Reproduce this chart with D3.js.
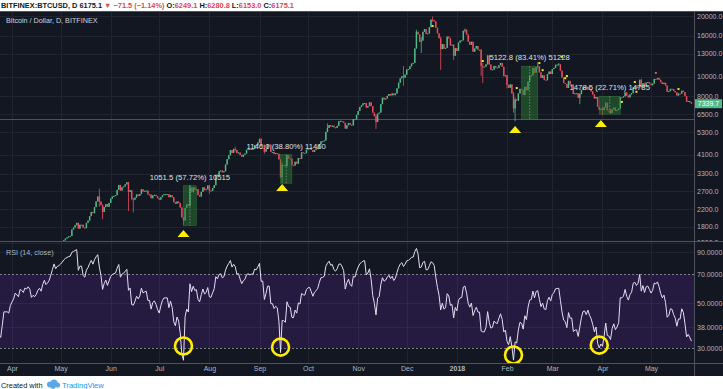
<!DOCTYPE html>
<html>
<head>
<meta charset="utf-8">
<script src="https://cdn.jsdelivr.net/npm/d3@7"></script>
<style>
  body { margin: 0; background: #ffffff; }
  svg { display: block; font-family: "Liberation Sans", Arial, sans-serif; }
</style>
</head>
<body>
<svg id="chart" width="723" height="389"></svg>
<script>
// daily closes, BITFINEX BTC/USD (open of each day = previous close)
const firstDay = "2017-03-01";
const firstOpen = 1190;
const mar17 = [1222, 1251, 1283, 1265, 1273, 1277, 1235, 1152, 1195, 1116, 1176, 1232, 1240, 1244, 1255, 1172, 1071, 971, 1023, 1044, 1120, 1049, 1039, 937, 920, 972, 1045, 1045, 1045, 1037, 1079];
const apr17 = [1100, 1120, 1160, 1150, 1140, 1190, 1185, 1175, 1205, 1200, 1215, 1205, 1170, 1180, 1175, 1185, 1205, 1215, 1205, 1240, 1265, 1250, 1260, 1275, 1310, 1360, 1430, 1410, 1440, 1450];
const may17 = [1470, 1500, 1540, 1570, 1590, 1610, 1620, 1740, 1780, 1830, 1880, 1760, 1840, 1840, 1780, 1770, 1880, 1930, 2030, 2130, 2100, 2250, 2400, 2540, 2400, 2300, 2130, 2250, 2330, 2260, 2360];
const jun17 = [2480, 2540, 2560, 2580, 2740, 2900, 2720, 2820, 2850, 2920, 2990, 2680, 2730, 2460, 2450, 2510, 2600, 2560, 2610, 2760, 2690, 2710, 2720, 2600, 2600, 2490, 2570, 2590, 2550, 2490];
const jul17 = [2450, 2520, 2580, 2610, 2610, 2610, 2520, 2580, 2520, 2380, 2340, 2400, 2360, 2240, 2000, 1930, 2230, 2320, 2280, 2820, 2670, 2820, 2740, 2760, 2580, 2540, 2680, 2820, 2730, 2760, 2880];
const aug17 = [2720, 2710, 2800, 2890, 3260, 3220, 3390, 3420, 3350, 3390, 3660, 3890, 4070, 4320, 4180, 4380, 4330, 4170, 4200, 4090, 4000, 4100, 4150, 4330, 4370, 4350, 4380, 4380, 4580, 4570, 4710];
const sep17 = [4900, 4580, 4590, 4240, 4380, 4600, 4600, 4230, 4230, 4130, 4170, 4140, 3880, 3160, 3640, 3630, 3590, 4070, 3930, 3910, 3630, 3620, 3780, 3700, 3940, 3910, 4210, 4180, 4170, 4340];
const oct17 = [4400, 4410, 4320, 4230, 4330, 4370, 4430, 4610, 4770, 4780, 4820, 5320, 5560, 5740, 5650, 5710, 5600, 5570, 5700, 6000, 6030, 5980, 5900, 5520, 5740, 5890, 5770, 5730, 6150, 6130, 6460];
const nov17 = [6760, 7070, 7200, 7370, 7400, 7020, 7140, 7450, 7140, 6620, 6360, 5950, 6550, 6630, 7300, 7860, 7700, 7790, 8030, 8200, 8070, 8250, 8090, 8250, 8750, 9330, 9810, 10050, 9880, 10230];
const dec17 = [10850, 10900, 11250, 11600, 11700, 13800, 16700, 16200, 14900, 15100, 16700, 17200, 16300, 16400, 17600, 19200, 19100, 18800, 17500, 16400, 15500, 13700, 14500, 13750, 13900, 15800, 15500, 14300, 14400, 12700, 13850];
const jan18 = [13400, 14750, 15100, 15150, 16900, 17100, 16200, 14900, 14400, 14900, 13300, 13800, 14200, 13600, 13600, 11300, 11200, 11200, 11500, 12750, 11500, 10800, 10850, 11300, 11100, 11050, 11400, 11700, 11200, 10050, 10150];
const feb18 = [9100, 8800, 9150, 8250, 6950, 7700, 7600, 8250, 8700, 8600, 8100, 8900, 8550, 9450, 10100, 10150, 11050, 10450, 11150, 11250, 10500, 9850, 10150, 9650, 9600, 10300, 10600, 10300];
const mar18 = [10900, 11050, 11450, 11480, 11500, 10700, 9900, 9300, 9200, 8780, 9530, 9130, 9140, 8200, 8260, 8270, 7850, 8190, 8590, 8880, 8900, 8700, 8900, 8630, 8450, 8150, 7790, 7930, 7090, 6840, 6930];
const apr18 = [6820, 7040, 7420, 6800, 6770, 6610, 6890, 7020, 6760, 6830, 6940, 7900, 7890, 7980, 8350, 8050, 7890, 8160, 8280, 8850, 8920, 8790, 8930, 9650, 8870, 9280, 8930, 9340, 9400, 9240];
const may18 = [9070, 9230, 9740, 9700, 9850, 9650, 9370, 9190, 9320, 9030, 8420, 8480, 8700, 8680, 8480, 8350, 8060, 8240, 8230, 8510, 8390, 8000, 7520, 7570, 7460, 7339.7];

// visible wicks: [day, high, low]
const wicks = [
  ["2017-05-25", 2780, 2260], ["2017-05-27", 2320, 1960], ["2017-06-12", 2990, 2150],
  ["2017-06-15", 2500, 2120], ["2017-07-16", 2010, 1830], ["2017-07-20", 2900, 2270],
  ["2017-08-01", 2900, 2620], ["2017-08-17", 4480, 4250], ["2017-09-01", 4930, 4680],
  ["2017-09-02", 4950, 4480], ["2017-09-04", 4560, 4140], ["2017-09-15", 3750, 2970],
  ["2017-10-13", 5850, 5300], ["2017-11-12", 6500, 5500], ["2017-11-29", 11300, 9000],
  ["2017-12-07", 17100, 13900], ["2017-12-10", 15700, 13100], ["2017-12-17", 19890, 18750],
  ["2017-12-22", 15800, 10800], ["2017-12-30", 14500, 12100], ["2018-01-06", 17300, 16600],
  ["2018-01-16", 13700, 10100], ["2018-01-17", 11700, 9300], ["2018-02-01", 10200, 8750],
  ["2018-02-05", 8390, 6620], ["2018-02-06", 7870, 6000], ["2018-02-20", 11790, 11100],
  ["2018-03-05", 11700, 11400], ["2018-03-18", 8300, 7300], ["2018-04-01", 7100, 6430],
  ["2018-04-06", 6900, 6520], ["2018-04-25", 9760, 8730]
];

const priceTicks = [20000, 16000, 13000, 10000, 8000, 6500, 5300, 4100, 3300, 2700, 2200, 1800, 1500];
const rsiTicks = [90, 70, 50, 38, 30];
const rsiBand = [30, 70];
const currentPrice = 6175.1;

const measures = [
  { from: "2017-07-16", to: "2017-07-24", low: 1821.8, high: 2873.3, label: "1051.5 (57.72%) 10515" },
  { from: "2017-09-14", to: "2017-09-21", low: 2953.6, high: 4099.6, label: "1146.0 (38.80%) 11460" },
  { from: "2018-02-10", to: "2018-02-20", low: 6141.7, high: 11264.5, label: "5122.8 (83.41%) 51228" },
  { from: "2018-03-30", to: "2018-04-12", low: 6510.3, high: 7988.8, label: "1478.5 (22.71%) 14785" }
];
const triangles = [["2017-07-16", 1733], ["2017-09-15", 2932], ["2018-02-06", 5690], ["2018-03-31", 6093]];
const rsiCircles = [["2017-07-16", 30.7], ["2017-09-14", 30.3], ["2018-02-05", 27.7], ["2018-03-30", 31.0]];
const dots = [
  ["2017-12-17", 17840, "y"], ["2018-01-17", 11960, "y"], ["2018-02-07", 8780, "y"],
  ["2018-02-21", 11680, "y"], ["2018-02-23", 10770, "y"], ["2018-03-07", 12550, "y"],
  ["2018-03-09", 9830, "y"], ["2018-03-10", 10070, "y"], ["2018-04-13", 7490, "y"],
  ["2018-04-21", 9410, "y"], ["2018-04-22", 8410, "y"], ["2018-05-04", 10430, "r"],
  ["2018-05-18", 8680, "y"]
];

const header = [
  ["BITFINEX:BTCUSD, D ", "#131722"], ["6175.1 ", "#131722"], ["\u25BC ", "#e0464f"],
  ["\u221271.5 (\u22121.14%) ", "#e0464f"], ["O:", "#131722"], ["6249.1 ", "#e0464f"],
  ["H:", "#131722"], ["6280.8 ", "#e0464f"], ["L:", "#131722"], ["6153.0 ", "#e0464f"],
  ["C:", "#131722"], ["6175.1", "#e0464f"]
];

const colors = { bg: "#131722", grid: "#20242f", up: "#53b987", down: "#eb4d5c", text: "#b2b5be", border: "#50535e" };
const pane = { right: 694, top: 11, priceBottom: 241, rsiTop: 242, rsiBottom: 363, axisBottom: 376 };

const parseDay = d3.utcParse("%Y-%m-%d");
const start = parseDay(firstDay);
const closes = [].concat(mar17, apr17, may17, jun17, jul17, aug17, sep17, oct17, nov17, dec17, jan18, feb18, mar18, apr18, may18);

const candles = closes.map((c, i) => {
  const open = i === 0 ? firstOpen : closes[i - 1];
  return { date: d3.utcDay.offset(start, i), open: open, close: c, high: Math.max(open, c), low: Math.min(open, c) };
});
wicks.forEach(([d, h, l]) => {
  const k = d3.utcDay.count(start, parseDay(d));
  candles[k].high = Math.max(h, candles[k].high);
  candles[k].low = Math.min(l, candles[k].low);
});

// RSI(14) of close, Wilder smoothing
function rsiSeries(len) {
  const out = [];
  let up = 0, down = 0;
  for (let i = 1; i < closes.length; i++) {
    const ch = closes[i] - closes[i - 1];
    const g = Math.max(ch, 0), l = Math.max(-ch, 0);
    if (i <= len) { up += g / len; down += l / len; }
    else { up = (up * (len - 1) + g) / len; down = (down * (len - 1) + l) / len; }
    if (i >= len) out.push({ date: candles[i].date, value: down === 0 ? 100 : 100 - 100 / (1 + up / down) });
  }
  return out;
}
const rsi = rsiSeries(14);

const x = d3.scaleUtc().domain([new Date(Date.UTC(2017, 3, 1)), new Date(Date.UTC(2018, 4, 1))]).range([12, 651]);
const yPrice = d3.scaleLog().domain([1500, 20000]).range([242.6, 16]);
const yRsi = d3.scaleLog().domain([30, 70]).range([348, 274]);
const monthTicks = d3.utcMonth.range(new Date(Date.UTC(2017, 3, 1)), new Date(Date.UTC(2018, 4, 2)));

const svg = d3.select("#chart");
const defs = svg.append("defs");
defs.append("clipPath").attr("id", "clipPrice").append("rect")
  .attr("x", 0).attr("y", pane.top).attr("width", pane.right).attr("height", pane.priceBottom - pane.top);
defs.append("clipPath").attr("id", "clipRsi").append("rect")
  .attr("x", 0).attr("y", pane.rsiTop).attr("width", pane.right).attr("height", pane.rsiBottom - pane.rsiTop);
defs.append("clipPath").attr("id", "clipPriceAxis").append("rect")
  .attr("x", pane.right).attr("y", pane.top).attr("width", 30).attr("height", pane.priceBottom - pane.top);

svg.append("rect").attr("x", 0).attr("y", pane.top).attr("width", 723).attr("height", pane.axisBottom - pane.top)
  .attr("fill", colors.bg);

// grid
const grid = svg.append("g").attr("stroke", colors.grid).attr("stroke-width", 1);
monthTicks.forEach(d => {
  const gx = Math.round(x(d)) + 0.5;
  grid.append("line").attr("x1", gx).attr("x2", gx).attr("y1", pane.top).attr("y2", pane.rsiBottom);
});
priceTicks.forEach(p => {
  const gy = Math.round(yPrice(p)) + 0.5;
  grid.append("line").attr("x1", 0).attr("x2", pane.right).attr("y1", gy).attr("y2", gy);
});
rsiTicks.filter(v => rsiBand.indexOf(v) < 0).forEach(v => {
  const gy = Math.round(yRsi(v)) + 0.5;
  grid.append("line").attr("x1", 0).attr("x2", pane.right).attr("y1", gy).attr("y2", gy);
});

// price pane
const pricePane = svg.append("g").attr("clip-path", "url(#clipPrice)");
const cy = Math.round(yPrice(currentPrice)) + 0.5;
pricePane.append("line").attr("x1", 0).attr("x2", pane.right).attr("y1", cy).attr("y2", cy)
  .attr("stroke", "#a02d3c").attr("stroke-width", 1);

const bodyW = 1.4;
const candleG = pricePane.append("g");
candles.forEach(c => {
  const cx = x(c.date);
  const col = c.close >= c.open ? colors.up : colors.down;
  candleG.append("line").attr("x1", cx).attr("x2", cx)
    .attr("y1", yPrice(c.high)).attr("y2", yPrice(c.low))
    .attr("stroke", col).attr("stroke-width", 0.8);
  const top = yPrice(Math.max(c.open, c.close));
  const bot = yPrice(Math.min(c.open, c.close));
  candleG.append("rect").attr("x", cx - bodyW / 2).attr("y", top)
    .attr("width", bodyW).attr("height", Math.max(1, bot - top)).attr("fill", col);
});

measures.forEach(m => {
  const x0 = x(parseDay(m.from)), x1 = x(parseDay(m.to));
  const y0 = yPrice(m.high), y1 = yPrice(m.low);
  pricePane.append("rect").attr("x", x0).attr("y", y0).attr("width", x1 - x0).attr("height", y1 - y0)
    .attr("fill", "#2a7a30").attr("fill-opacity", 0.5)
    .attr("stroke", "#3d8b40").attr("stroke-opacity", 0.6).attr("stroke-width", 0.6);
  pricePane.append("line").attr("x1", (x0 + x1) / 2).attr("x2", (x0 + x1) / 2).attr("y1", y0).attr("y2", y1)
    .attr("stroke", "#d8dde0").attr("stroke-opacity", 0.6).attr("stroke-width", 0.7).attr("stroke-dasharray", "1.5,1.5");
  pricePane.append("text").attr("x", (x0 + x1) / 2).attr("y", y0 - 6)
    .attr("text-anchor", "middle").attr("font-size", "7.7px").attr("fill", "#dfe2ea")
    .text(m.label);
});

dots.forEach(([d, p, c]) => {
  pricePane.append("rect").attr("x", x(parseDay(d)) - 1).attr("y", yPrice(p) - 1)
    .attr("width", 2).attr("height", 2).attr("fill", c === "r" ? "#e2535f" : "#f2e41a");
});

triangles.forEach(([d, p]) => {
  const tx = x(parseDay(d)), ty = yPrice(p);
  pricePane.append("path")
    .attr("d", `M${tx},${ty} L${tx + 6},${ty + 7} L${tx - 6},${ty + 7} Z`)
    .attr("fill", "#ffee00");
});

pricePane.append("text").attr("x", 6).attr("y", 23).attr("font-size", "7.2px").attr("fill", "#d1d4dc")
  .text("Bitcoin / Dollar, D, BITFINEX");

// RSI pane
const rsiPane = svg.append("g").attr("clip-path", "url(#clipRsi)");
rsiPane.append("rect").attr("x", 0).attr("y", yRsi(rsiBand[1])).attr("width", pane.right)
  .attr("height", yRsi(rsiBand[0]) - yRsi(rsiBand[1])).attr("fill", "#8a2be2").attr("fill-opacity", 0.16);
rsiBand.forEach(v => {
  const by = Math.round(yRsi(v)) + 0.5;
  rsiPane.append("line").attr("x1", 0).attr("x2", pane.right).attr("y1", by).attr("y2", by)
    .attr("stroke", "#7c7f8a").attr("stroke-width", 1).attr("stroke-dasharray", "2,2");
});
rsiPane.append("path").datum(rsi)
  .attr("d", d3.line().x(d => x(d.date)).y(d => yRsi(d.value)))
  .attr("fill", "none").attr("stroke", "#e4ddf3").attr("stroke-width", 1);
rsiCircles.forEach(([d, v]) => {
  rsiPane.append("circle").attr("cx", x(parseDay(d))).attr("cy", yRsi(v)).attr("r", 8.5)
    .attr("fill", "none").attr("stroke", "#ffee00").attr("stroke-width", 2.6);
});
rsiPane.append("text").attr("x", 6).attr("y", 255).attr("font-size", "7.2px").attr("fill", colors.text)
  .text("RSI (14, close)");

// borders
const borders = svg.append("g").attr("stroke", colors.border).attr("stroke-width", 1);
borders.append("line").attr("x1", 0).attr("x2", 723).attr("y1", pane.priceBottom + 0.5).attr("y2", pane.priceBottom + 0.5);
borders.append("line").attr("x1", 0).attr("x2", 723).attr("y1", pane.rsiBottom + 0.5).attr("y2", pane.rsiBottom + 0.5);
borders.append("line").attr("x1", pane.right + 0.5).attr("x2", pane.right + 0.5).attr("y1", pane.top).attr("y2", pane.axisBottom);
borders.append("line").attr("x1", 0).attr("x2", 723).attr("y1", pane.top + 0.5).attr("y2", pane.top + 0.5);

// axes
function styleAxis(g) {
  g.select(".domain").remove();
  g.selectAll("text").attr("fill", colors.text).attr("font-size", "7px")
    .attr("font-family", "\"Liberation Sans\", Arial, sans-serif");
}

svg.append("g").attr("clip-path", "url(#clipPriceAxis)")
  .append("g").attr("transform", `translate(${pane.right},0)`)
  .call(d3.axisRight(yPrice).tickValues(priceTicks).tickFormat(d3.format(".1f")).tickSize(0).tickPadding(3))
  .call(styleAxis);

svg.append("g").attr("transform", `translate(${pane.right},0)`)
  .call(d3.axisRight(yRsi).tickValues(rsiTicks).tickFormat(d3.format(".4f")).tickSize(0).tickPadding(3))
  .call(styleAxis);

svg.append("g").attr("transform", `translate(0,${pane.rsiBottom})`)
  .call(d3.axisBottom(x).tickValues(monthTicks).tickSize(0).tickPadding(3)
    .tickFormat(d => d.getUTCMonth() === 0 ? d3.utcFormat("%Y")(d) : d3.utcFormat("%b")(d)))
  .call(styleAxis)
  .call(g => g.selectAll("text").filter(d => d.getUTCMonth() === 0).attr("font-weight", "bold"));

// last price label
const last = candles[candles.length - 1];
const ly = yPrice(last.close);
svg.append("rect").attr("x", pane.right + 1).attr("y", ly - 4.5).attr("width", 27).attr("height", 9)
  .attr("fill", colors.up);
svg.append("text").attr("x", pane.right + 14.5).attr("y", ly + 2.5).attr("text-anchor", "middle")
  .attr("font-size", "7px").attr("fill", "#ffffff").text(d3.format(".1f")(last.close));

// header line
const head = svg.append("text").attr("x", 1).attr("y", 8).attr("font-size", "7.4px").attr("font-weight", "bold");
header.forEach(([t, c]) => head.append("tspan").attr("fill", c).text(t));

// footer
const foot = svg.append("g").attr("transform", "translate(0,385)");
foot.append("text").attr("x", 1).attr("y", 2.5).attr("font-size", "7.4px").attr("fill", "#131722").text("Created with");
const cloud = foot.append("g").attr("fill", "#5aa9e6");
[[50, -0.5, 3], [54, -2, 3.6], [57.5, 0, 2.6], [53, 1.2, 2.6]].forEach(([cx, cyy, r]) => {
  cloud.append("circle").attr("cx", cx).attr("cy", cyy).attr("r", r);
});
foot.append("text").attr("x", 62).attr("y", 2.5).attr("font-size", "7.6px").attr("fill", "#2196f3").text("TradingView");
</script>
</body>
</html>
